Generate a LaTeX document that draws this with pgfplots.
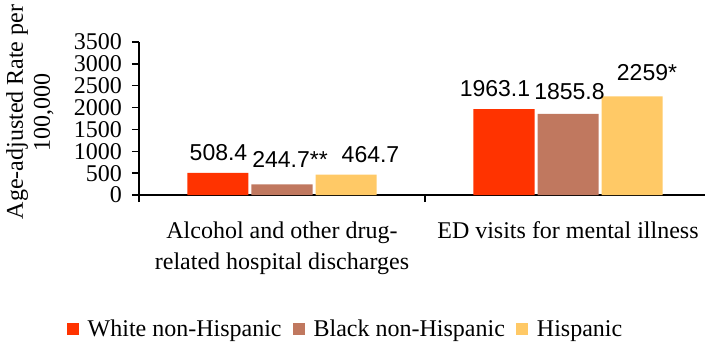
\documentclass[border=0pt]{standalone}
\usepackage{fontspec}
\setmainfont{Liberation Serif}
\newfontfamily\labelfont{Liberation Sans}
\usepackage{pgfplots}
\pgfplotsset{compat=1.18}
\usepackage{pgfplotstable}

\definecolor{cWhite}{HTML}{FF3300}
\definecolor{cBlack}{HTML}{C0785F}
\definecolor{cHisp}{HTML}{FFC966}

% columns: category, rate, printed label, label offsets (pt)
\pgfplotstableread{
x y label dx dy
0 508.4 508.4 0.5 20.3
1 1963.1 1963.1 -9 21
}\whiteNH
\pgfplotstableread{
x y label dx dy
0 244.7 244.7** 8 25.3
1 1855.8 1855.8 1.5 22
}\blackNH
\pgfplotstableread{
x y label dx dy
0 464.7 464.7 24.5 19.7
1 2259 2259* 15 24
}\hisp

\pgfplotsset{
  bar sq/.style={
    draw=none,
    legend image code/.code={\fill[##1] (0pt,-6pt) rectangle (12pt,6pt);},
    point meta=explicit symbolic,
    nodes near coords,
    visualization depends on={\thisrow{dx} \as \labdx},
    visualization depends on={\thisrow{dy} \as \labdy},
    nodes near coords style={anchor=center, xshift=\labdx pt, yshift=\labdy pt,
      font=\labelfont\fontsize{23}{23}\selectfont},
  },
}

\begin{document}
\begin{tikzpicture}
\useasboundingbox (0,0) rectangle (705pt,341pt);
\begin{axis}[
  scale only axis, width=572pt, height=153pt,
  at={(139pt,146pt)}, anchor=south west,
  xmin=-0.5, xmax=1.5, ymin=0, ymax=3500,
  ybar=3pt, bar width=61pt,
  axis x line*=bottom, axis y line*=left,
  axis line style={line width=1.5pt, black},
  tick align=outside, major tick length=7pt,
  every tick/.style={black, line width=1.5pt},
  ytick={0,500,...,3500},
  yticklabel style={font=\fontsize{24}{24}\selectfont, xshift=-6.5pt},
  /pgf/number format/.cd, 1000 sep={}, assume math mode=true, /pgfplots/.cd,
  xtick={-0.5,0.5,1.5}, xticklabels={},
  extra x ticks={0,1},
  extra x tick labels={{Alcohol and other drug-\\related hospital discharges},{ED visits for mental illness}},
  extra x tick style={major tick length=0pt,
    xticklabel style={align=center, font=\fontsize{24}{31}\selectfont, yshift=-23pt}},
  every axis y label/.style={at={(axis description cs:-0.1906,0.5425)},
    rotate=90, anchor=center, align=center, font=\fontsize{24}{27}\selectfont},
  ylabel={Age-adjusted Rate per\\100,000},
  legend columns=3,
  legend style={at={(axis description cs:0.361,-0.875)}, anchor=center,
    draw=none, fill=none, font=\fontsize{24}{24}\selectfont,
    /tikz/every odd column/.append style={column sep=7pt},
    /tikz/every even column/.append style={column sep=9pt}},
]
\addplot[fill=cWhite, bar sq] table[x=x, y=y, meta=label] {\whiteNH};
\addplot[fill=cBlack, bar sq] table[x=x, y=y, meta=label] {\blackNH};
\addplot[fill=cHisp, bar sq] table[x=x, y=y, meta=label] {\hisp};
\legend{White non-Hispanic, Black non-Hispanic, Hispanic}
\end{axis}
\end{tikzpicture}
\end{document}
